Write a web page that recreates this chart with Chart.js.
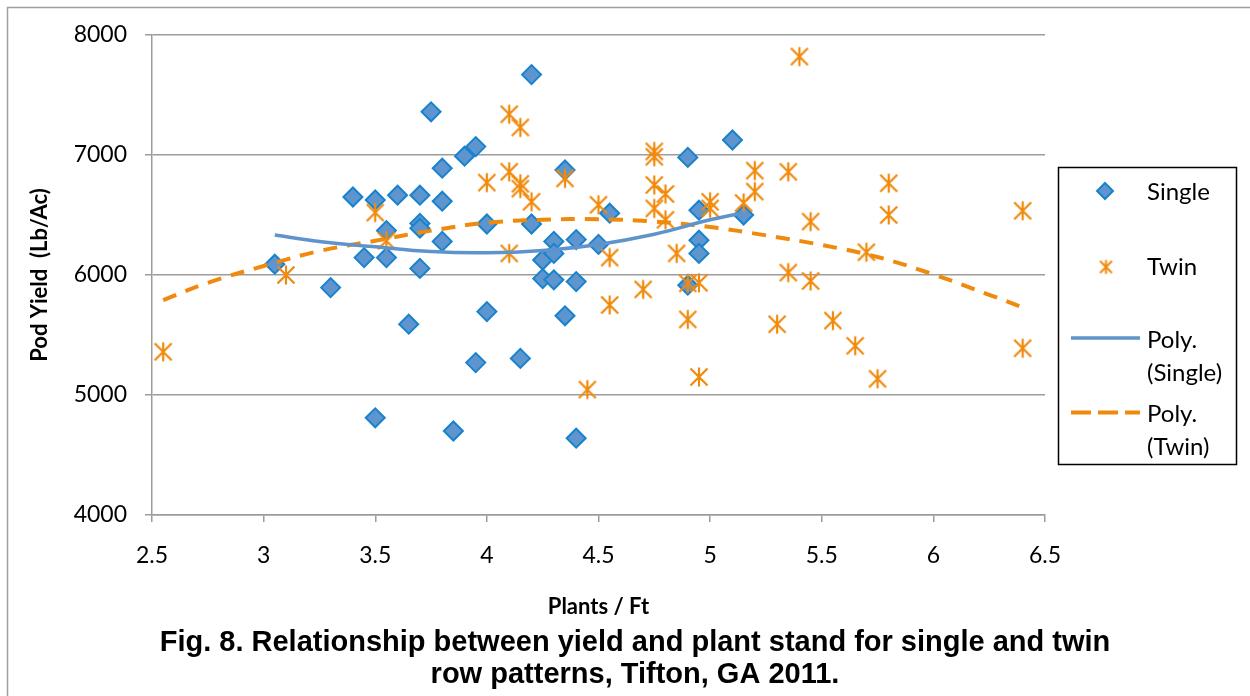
<!DOCTYPE html>
<html>
<head>
<meta charset="utf-8">
<script src="https://cdn.jsdelivr.net/npm/chart.js@4.4.1/dist/chart.umd.min.js"></script>
<style>
html,body{margin:0;padding:0;background:#fff;}
#wrap{width:1250px;height:696px;position:relative;}
</style>
</head>
<body>
<div id="wrap"><canvas id="c" width="1250" height="696"></canvas></div>
<script>
// ---- Data ----
const seriesNames = ['Single', 'Twin', 'Poly. (Single)', 'Poly. (Twin)'];

const singleX = [3.05,3.3,3.4,3.45,3.5,3.5,3.55,3.55,3.6,3.65,3.7,3.7,3.7,3.7,3.75,3.8,3.8,3.8,3.85,3.9,3.95,3.95,4.0,4.0,4.15,4.2,4.2,4.25,4.25,4.3,4.3,4.3,4.35,4.35,4.4,4.4,4.4,4.5,4.55,4.9,4.9,4.95,4.95,4.95,5.1,5.15];
const singleY = [6090,5895,6650,6145,6625,4810,6370,6145,6665,5590,6665,6430,6390,6055,7360,6890,6615,6280,4700,6990,7070,5270,6425,5695,5305,7670,6425,6125,5970,6280,6180,5960,6875,5660,6295,5945,4640,6255,6515,6980,5915,6540,6290,6180,7125,6500];

const twinX = [2.55,3.1,3.5,3.55,4.0,4.1,4.1,4.1,4.15,4.15,4.15,4.2,4.35,4.45,4.5,4.55,4.55,4.7,4.75,4.75,4.75,4.75,4.8,4.8,4.85,4.9,4.9,4.95,4.95,5.0,5.0,5.15,5.2,5.2,5.3,5.35,5.35,5.4,5.45,5.45,5.55,5.65,5.7,5.75,5.8,5.8,6.4,6.4];
const twinY = [5360,6000,6520,6285,6770,7340,6860,6180,7230,6760,6720,6610,6805,5045,6585,6145,5750,5880,7030,6985,6750,6555,6675,6460,6180,5930,5630,5935,5150,6610,6555,6600,6870,6695,5590,6860,6020,7820,6445,5950,5620,5410,6190,5135,6765,6500,6535,5390];

// trend lines
const polySingleX = [3.05,3.25,3.5,3.75,4.0,4.25,4.5,4.75,5.0,5.15];
const polySingleY = [6333,6280,6235,6195,6185,6205,6255,6340,6460,6520];
const polyTwinX = [2.55,2.75,3.0,3.25,3.5,3.75,4.0,4.25,4.5,4.75,5.0,5.25,5.5,5.75,6.0,6.25,6.4];
const polyTwinY = [5790,5935,6075,6200,6285,6370,6435,6460,6465,6445,6400,6330,6250,6150,6005,5835,5730];

const xTickMin = 2.5, xTickMax = 6.5, xStep = 0.5;
const yTickMin = 4000, yTickMax = 8000, yStep = 1000;

const caption = ['Fig. 8. Relationship between yield and plant stand for single and twin', 'row patterns, Tifton, GA 2011.'];
const xTitle = 'Plants / Ft';
const yTitle = 'Pod Yield  (Lb/Ac)';

// ---- Styles ----
const BLUE_FILL = '#5E95CF';
const BLUE_EDGE = '#1883CC';
const BLUE_LINE = '#5F93CC';
const ORANGE = '#F08A0C';
const GRID = '#9c9c9c';
const TICK_FONT = {family: 'Lato', size: 23};
const TITLE_FONT = {family: 'Lato', size: 22, weight: 'bold'};

function makeStar(size, lw, color) {
  const c = document.createElement('canvas');
  c.width = size; c.height = size;
  const g = c.getContext('2d');
  g.strokeStyle = color; g.lineWidth = lw; g.lineCap = 'butt';
  const m = size / 2, e = 1.5;
  g.beginPath();
  g.moveTo(m, e); g.lineTo(m, size - e);
  g.moveTo(e + 1, e + 1); g.lineTo(size - e - 1, size - e - 1);
  g.moveTo(size - e - 1, e + 1); g.lineTo(e + 1, size - e - 1);
  g.stroke();
  return c;
}
const starImg = makeStar(22, 2.2, ORANGE);
const toPts = (xs, ys) => xs.map((x, i) => ({x: x, y: ys[i]}));

const bgPlugin = {
  id: 'bg',
  beforeDraw(chart) {
    const ctx = chart.ctx;
    ctx.save();
    ctx.fillStyle = '#fff';
    ctx.fillRect(0, 0, chart.width, chart.height);
    ctx.strokeStyle = '#a0a0a0';
    ctx.lineWidth = 1.5;
    ctx.beginPath();
    ctx.moveTo(7.5, chart.height); ctx.lineTo(7.5, 7.5); ctx.lineTo(chart.width, 7.5);
    ctx.stroke();
    ctx.restore();
  }
};

const legendPlugin = {
  id: 'customLegend',
  afterDraw(chart) {
    const ctx = chart.ctx;
    ctx.save();
    ctx.strokeStyle = '#000';
    ctx.lineWidth = 1.5;
    ctx.strokeRect(1058.5, 167.5, 178, 297);
    // diamond
    const dx = 1105, dy = 191, r = 8;
    ctx.beginPath();
    ctx.moveTo(dx, dy - r); ctx.lineTo(dx + r, dy); ctx.lineTo(dx, dy + r); ctx.lineTo(dx - r, dy); ctx.closePath();
    ctx.fillStyle = BLUE_FILL; ctx.fill();
    ctx.strokeStyle = BLUE_EDGE; ctx.lineWidth = 2; ctx.stroke();
    // star
    const s = makeStar(17, 2, ORANGE);
    ctx.drawImage(s, 1106 - 8.5, 267 - 8.5);
    // solid line
    ctx.beginPath(); ctx.moveTo(1071, 338); ctx.lineTo(1140, 338);
    ctx.strokeStyle = BLUE_LINE; ctx.lineWidth = 3.5; ctx.setLineDash([]); ctx.stroke();
    // dashed
    ctx.beginPath(); ctx.moveTo(1071, 412.5); ctx.lineTo(1140, 412.5);
    ctx.strokeStyle = ORANGE; ctx.lineWidth = 4; ctx.lineCap = 'butt'; ctx.setLineDash([20, 7]); ctx.stroke();
    ctx.setLineDash([]);
    // texts
    ctx.fillStyle = '#000';
    ctx.font = '24px Lato';
    ctx.textBaseline = 'middle';
    ctx.textAlign = 'left';
    ctx.fillText(seriesNames[0], 1147, 192);
    ctx.fillText(seriesNames[1], 1147, 267);
    const p1 = seriesNames[2].split(' ');
    ctx.fillText(p1[0], 1147, 340);
    ctx.fillText(p1[1], 1147, 373);
    const p2 = seriesNames[3].split(' ');
    ctx.fillText(p2[0], 1147, 414);
    ctx.fillText(p2[1], 1147, 447);
    ctx.restore();
  }
};

new Chart(document.getElementById('c'), {
  type: 'scatter',
  data: {
    datasets: [
      {
        label: seriesNames[2], data: toPts(polySingleX, polySingleY), showLine: true,
        borderColor: BLUE_LINE, borderWidth: 3.5, pointRadius: 0, tension: 0.4, fill: false, order: 0
      },
      {
        label: seriesNames[3], data: toPts(polyTwinX, polyTwinY), showLine: true,
        borderColor: ORANGE, borderWidth: 4, borderDash: [14, 10], pointRadius: 0, tension: 0.4, fill: false, order: 0
      },
      {
        label: seriesNames[0], data: toPts(singleX, singleY),
        pointStyle: 'rectRot', pointRadius: 9.5, backgroundColor: BLUE_FILL, borderColor: BLUE_EDGE, borderWidth: 2, order: 2
      },
      {
        label: seriesNames[1], data: toPts(twinX, twinY),
        pointStyle: starImg, pointRadius: 11, backgroundColor: ORANGE, borderColor: ORANGE, order: 1
      }
    ]
  },
  options: {
    responsive: false,
    animation: false,
    events: [],
    layout: {padding: {left: 20, right: 0, top: 35, bottom: 5}},
    plugins: {
      legend: {display: false},
      tooltip: {enabled: false},
      title: {
        display: true, position: 'bottom', fullSize: true, text: caption, color: '#000',
        font: {family: 'Liberation Sans', size: 29, weight: 'bold', lineHeight: 32 / 29},
        padding: {top: 6.8, bottom: 0}
      }
    },
    scales: {
      x: {
        type: 'linear', min: xTickMin, max: xTickMax,
        ticks: {stepSize: xStep, padding: 20, font: TICK_FONT, color: '#000', maxRotation: 0, autoSkip: false, callback: v => String(v)},
        grid: {drawOnChartArea: false, drawTicks: true, tickLength: 7, color: GRID, lineWidth: 1.5},
        border: {color: GRID, width: 1.5},
        title: {display: true, text: xTitle, font: TITLE_FONT, color: '#000', padding: {top: 0, bottom: 0}},
        afterFit(s) { s.height = 105.2; }
      },
      y: {
        type: 'linear', position: 'left', min: yTickMin, max: yTickMax,
        ticks: {stepSize: yStep, padding: 18, font: TICK_FONT, color: '#000', callback: v => String(v)},
        grid: {color: GRID, lineWidth: 1.5, tickLength: 7},
        border: {color: GRID, width: 1.5},
        title: {display: true, text: yTitle, font: TITLE_FONT, color: '#000', padding: {top: 6.8, bottom: 0}},
        afterFit(s) { s.width = 132; }
      },
      yR: {
        type: 'linear', position: 'right', display: true,
        ticks: {display: false}, grid: {display: false}, border: {display: false},
        afterFit(s) { s.width = 205; }
      }
    }
  },
  plugins: [bgPlugin, legendPlugin]
});
</script>
</body>
</html>
